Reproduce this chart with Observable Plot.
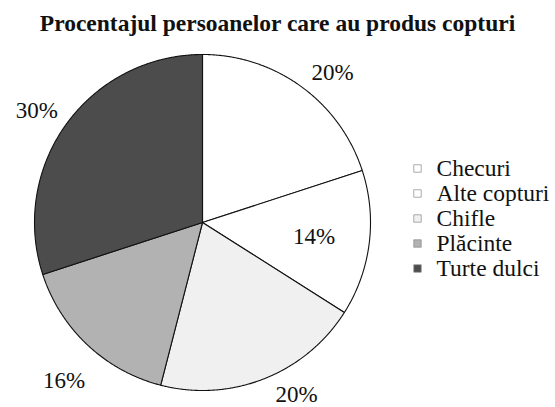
<!DOCTYPE html>
<html><head><meta charset="utf-8">
<script src="https://cdn.jsdelivr.net/npm/d3@7"></script>
<script src="https://cdn.jsdelivr.net/npm/@observablehq/plot@0.6"></script>
<style>
body{margin:0;background:#fff;width:555px;height:407px;overflow:hidden;font-family:"Liberation Serif",serif;color:#111;}
#title{height:44px;line-height:46px;text-align:center;font-weight:bold;font-size:23.5px;white-space:nowrap;}
#chart svg{display:block;}
</style></head><body>
<div id="title">Procentajul persoanelor care au produs copturi</div>
<div id="chart"></div>
<script>
const categories = ["Checuri", "Alte copturi", "Chifle", "Plăcinte", "Turte dulci"];
const values = [20, 14, 20, 16, 30];
const labels = ["20%", "14%", "20%", "16%", "30%"];
const colors = ["#ffffff", "#ffffff", "#f0f0f0", "#b2b2b2", "#4c4c4c"];

// layout (pixels, 1 unit = 1 px)
const W = 555, H = 363, CX = 202, CY = 178, R = 168;
const labelRadius = [1.18, 0.67, 1.17, 1.25, 1.19];
const labelShift = [5, 0, -7, -2, -2]; // degrees
const legendX = 417, legendTextX = 436, legendTop = 124, legendStep = 25;
const FONT = "Liberation Serif";

const arcs = d3.pie().sort(null).value(d => d.value)(categories.map((c, i) => ({category: c, value: values[i], i})));
const pt = (a, r) => ({x: r * Math.sin(a), y: r * Math.cos(a)});

const polys = [];
for (const a of arcs) {
  const cat = a.data.category;
  polys.push({category: cat, ...pt(0, 0)});
  const n = Math.max(2, Math.ceil((a.endAngle - a.startAngle) / 0.005));
  for (let k = 0; k <= n; k++) {
    const ang = a.startAngle + (a.endAngle - a.startAngle) * k / n;
    polys.push({category: cat, ...pt(ang, R)});
  }
  polys.push({category: cat, ...pt(0, 0)});
}
const labelPts = arcs.map(a => {
  const i = a.data.i;
  const m = (a.startAngle + a.endAngle) / 2 + labelShift[i] * Math.PI / 180;
  return {label: labels[i], ...pt(m, R * labelRadius[i])};
});
const legend = categories.map((c, i) => ({category: c, x: legendX - CX, tx: legendTextX - CX, y: CY - (legendTop + i * legendStep)}));

const chart = Plot.plot({
  width: W, height: H,
  margin: 0,
  x: {domain: [-CX, W - CX], axis: null},
  y: {domain: [CY - H, CY], axis: null},
  color: {domain: categories, range: colors},
  marks: [
    Plot.line(polys, {x: "x", y: "y", z: "category", fill: "category", stroke: "#111", strokeWidth: 1.1, strokeLinejoin: "round", curve: "linear"}),
    Plot.text(labelPts, {x: "x", y: "y", text: "label", fontSize: 23, fontFamily: FONT, fill: "#111"}),
    Plot.dot(legend, {x: "x", y: "y", symbol: "square", r: 4.2, fill: "category", stroke: "#888", strokeWidth: 0.7}),
    Plot.text(legend, {x: "tx", y: "y", text: "category", textAnchor: "start", fontSize: 23.5, fontFamily: FONT, fill: "#111"})
  ]
});
document.getElementById("chart").append(chart);
</script>
</body></html>
